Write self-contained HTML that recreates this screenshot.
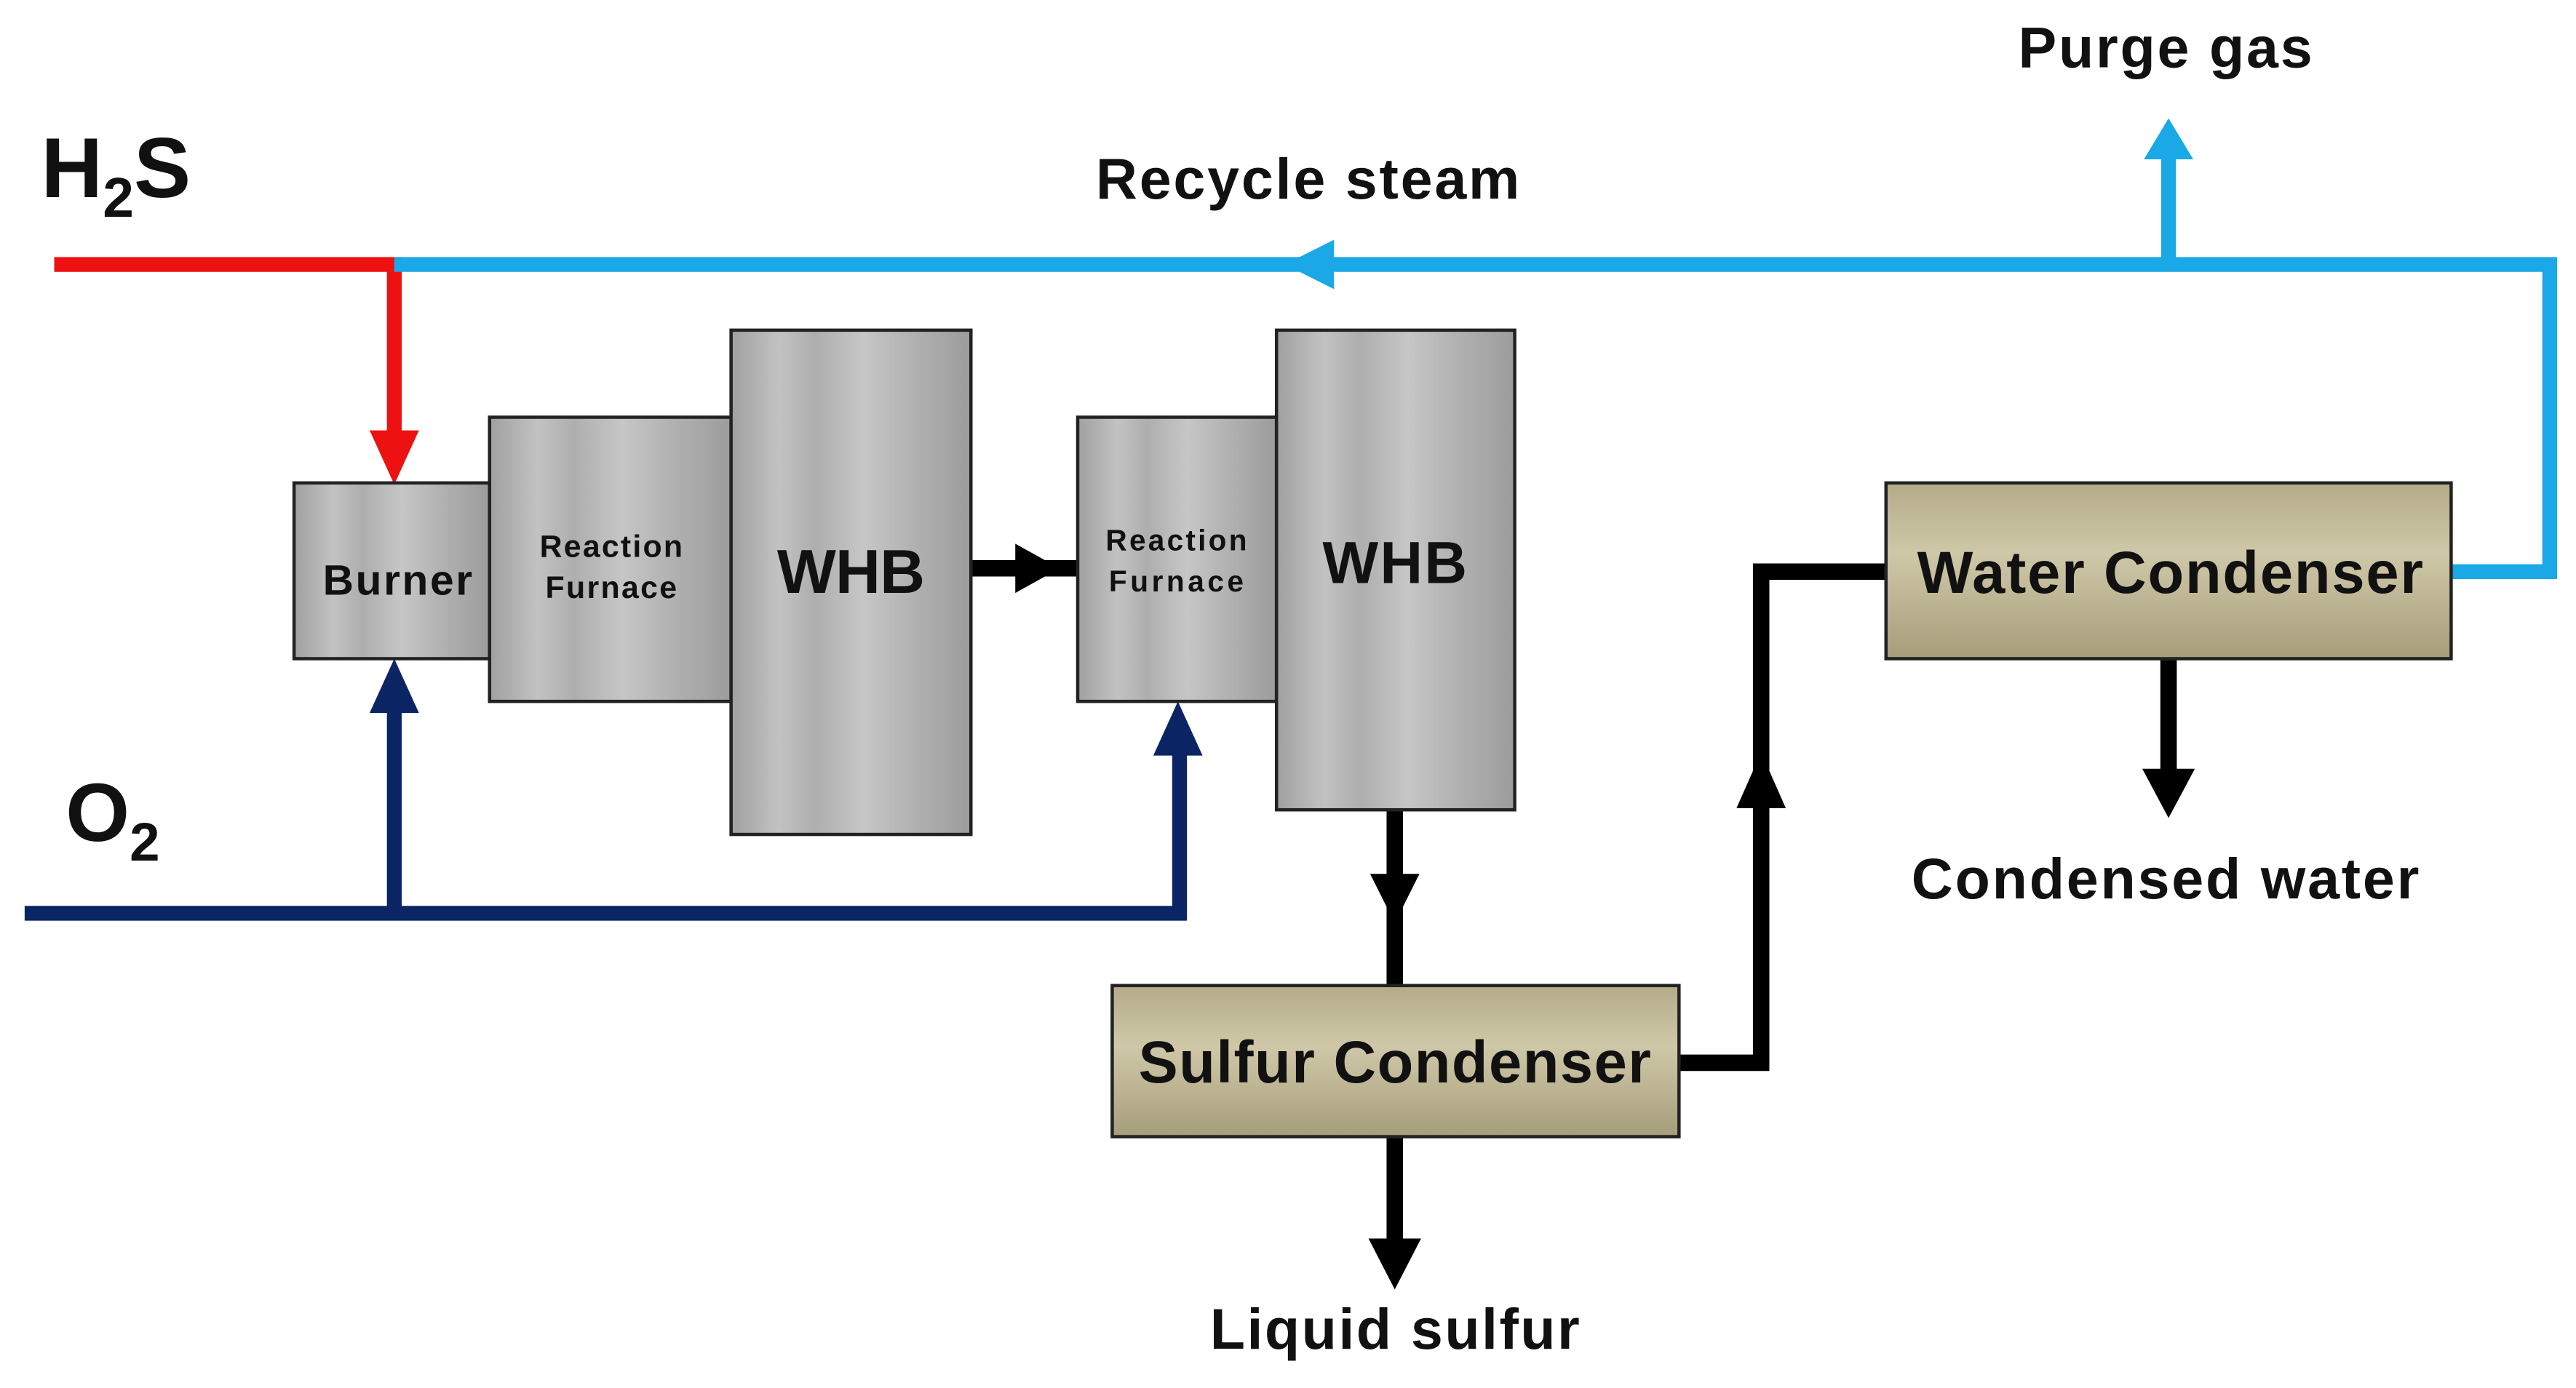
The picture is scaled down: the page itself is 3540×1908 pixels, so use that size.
<!DOCTYPE html>
<html><head><meta charset="utf-8"><style>
html,body{margin:0;padding:0;background:#fff;}
svg{display:block;}
text{font-family:"Liberation Sans",Arial,sans-serif;font-weight:bold;fill:#111;}
</style></head><body>
<svg width="3540" height="1908" viewBox="0 0 1568 845" preserveAspectRatio="none" xmlns="http://www.w3.org/2000/svg">
<defs>
<linearGradient id="g" x1="0" x2="1" y1="0" y2="0">
<stop offset="0" stop-color="#a0a0a0"/><stop offset="0.2" stop-color="#c2c2c2"/><stop offset="0.35" stop-color="#aeaeae"/><stop offset="0.55" stop-color="#c6c6c6"/><stop offset="0.75" stop-color="#b2b2b2"/><stop offset="1" stop-color="#9c9c9c"/>
</linearGradient>
<linearGradient id="t" x1="0" x2="0" y1="0" y2="1">
<stop offset="0" stop-color="#b3ab88"/><stop offset="0.4" stop-color="#cfc8a8"/><stop offset="1" stop-color="#a69d7a"/>
</linearGradient>
</defs>
<g fill="none" stroke-linejoin="miter">
<path d="M33 161 H240 V268" stroke="#ee1111" stroke-width="9"/>
<path d="M240 161 H1552 V348 H1492" stroke="#1aa8e6" stroke-width="9"/>
<path d="M1320 161 V95" stroke="#1aa8e6" stroke-width="9"/>
<path d="M15 556 H718 V450" stroke="#0b2464" stroke-width="9"/>
<path d="M240 556 V425" stroke="#0b2464" stroke-width="9"/>
<path d="M591 346 H656" stroke="#000" stroke-width="10"/>
<path d="M849 493 V600" stroke="#000" stroke-width="10"/>
<path d="M849 692 V760" stroke="#000" stroke-width="10"/>
<path d="M1022 647 H1072 V348 H1148" stroke="#000" stroke-width="10"/>
<path d="M1320 401 V475" stroke="#000" stroke-width="10"/>
</g>
<polygon points="225,262 255,262 240,295" fill="#ee1111"/>
<polygon points="1305,97 1335,97 1320,72" fill="#1aa8e6"/>
<polygon points="812,146 812,176 782,161" fill="#1aa8e6"/>
<polygon points="225,434 255,434 240,401" fill="#0b2464"/>
<polygon points="702,460 732,460 717,427" fill="#0b2464"/>
<polygon points="618,331 618,361 645,346" fill="#000"/>
<polygon points="834,532 864,532 849,562" fill="#000"/>
<polygon points="833,754 865,754 849,785" fill="#000"/>
<polygon points="1057,492 1087,492 1072,458" fill="#000"/>
<polygon points="1304,468 1336,468 1320,498" fill="#000"/>
<g stroke="#222" stroke-width="2">
<rect x="179" y="294" width="119" height="107" fill="url(#g)"/>
<rect x="298" y="254" width="147" height="173" fill="url(#g)"/>
<rect x="445" y="201" width="146" height="307" fill="url(#g)"/>
<rect x="656" y="254" width="121" height="173" fill="url(#g)"/>
<rect x="777" y="201" width="145" height="292" fill="url(#g)"/>
<rect x="677" y="600" width="345" height="92" fill="url(#t)"/>
<rect x="1148" y="294" width="344" height="107" fill="url(#t)"/>
</g>
<text x="242" y="362" font-size="26" text-anchor="middle" textLength="91">Burner</text>
<text x="372" y="339" font-size="19" text-anchor="middle" textLength="87">Reaction</text>
<text x="372" y="364" font-size="19" text-anchor="middle" textLength="80">Furnace</text>
<text x="518" y="361" font-size="38" text-anchor="middle" textLength="90">WHB</text>
<text x="716" y="335" font-size="18" text-anchor="middle" textLength="86">Reaction</text>
<text x="716" y="360" font-size="18" text-anchor="middle" textLength="82">Furnace</text>
<text x="849" y="355" font-size="36" text-anchor="middle" textLength="88">WHB</text>
<text x="849" y="659" font-size="36" text-anchor="middle" textLength="312">Sulfur Condenser</text>
<text x="1321" y="361" font-size="36" text-anchor="middle" textLength="308">Water Condenser</text>
<text x="849" y="821" font-size="35" text-anchor="middle" textLength="225">Liquid sulfur</text>
<text x="1318" y="547" font-size="35" text-anchor="middle" textLength="309">Condensed water</text>
<text x="1318" y="41" font-size="35" text-anchor="middle" textLength="179">Purge gas</text>
<text x="796" y="121" font-size="35" text-anchor="middle" textLength="258">Recycle steam</text>
<text x="25" y="120" font-size="52">H<tspan font-size="34" dy="12">2</tspan><tspan dy="-12">S</tspan></text>
<text x="40" y="512" font-size="50">O<tspan font-size="33" dy="12">2</tspan></text>
</svg>
</body></html>
